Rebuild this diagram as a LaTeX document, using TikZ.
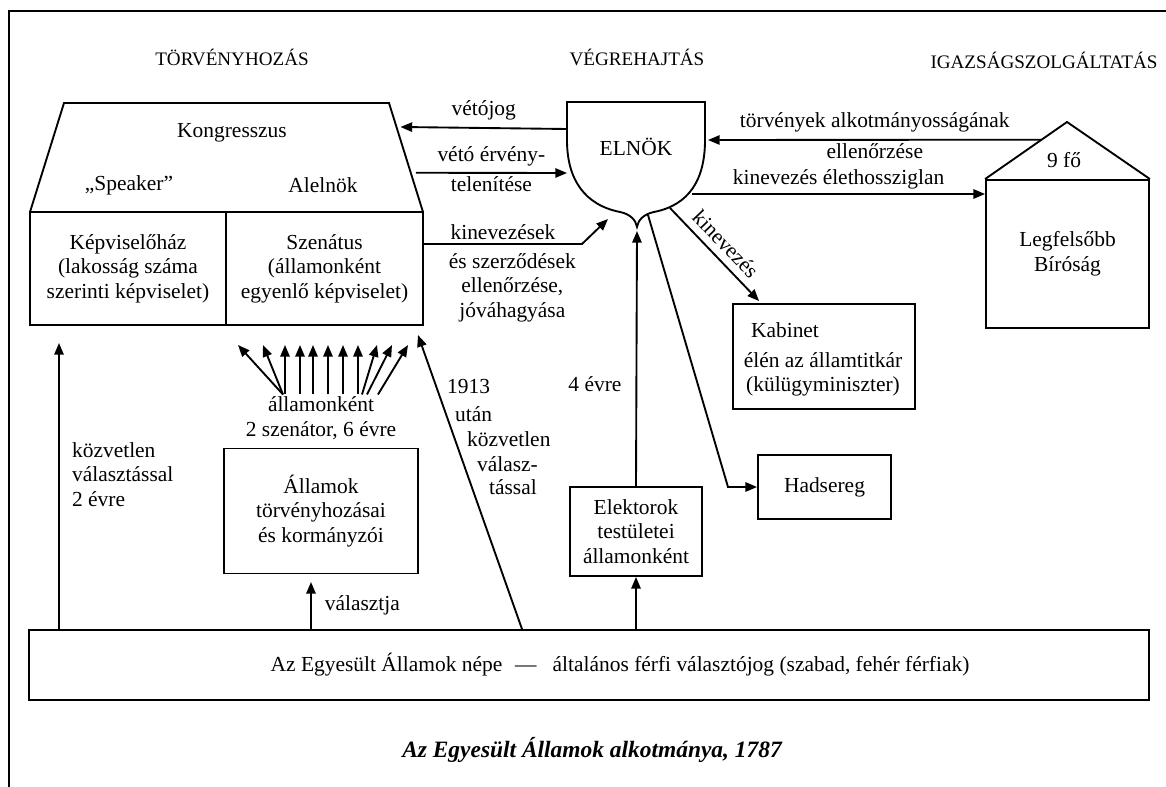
\documentclass[tikz,border=0pt]{standalone}
\usepackage{fontspec}
\setmainfont{Liberation Serif}
\usetikzlibrary{arrows.meta,calc}

\begin{document}
\begin{tikzpicture}[x=0.03cm, y=-0.03cm, >={Triangle[length=10pt,width=8pt]},
    every node/.style={font=\fontsize{18.3}{21}\selectfont, inner sep=1pt},
    every path/.style={line width=1.6pt},
    box/.style={draw, align=center},
    lbl/.style={align=center},
    fejlec/.style={font=\fontsize{16.3}{20}\selectfont}]
    \useasboundingbox (0,0) rectangle (1166,787);
    \draw (9,787) -- (9,11) -- (1166,11);

    % fejlecek
    \node[fejlec] (torv) at (232,57) {TÖRVÉNYHOZÁS};
    \node[fejlec] (vegr) at (637,57) {VÉGREHAJTÁS};
    \node[fejlec] (igaz) at (1044,60) {IGAZSÁGSZOLGÁLTATÁS};

    % Kongresszus
    \coordinate (ktl) at (64,103);
    \coordinate (ktr) at (389,103);
    \coordinate (kbl) at (30,212);
    \coordinate (kbr) at (423,212);
    \draw (kbl) -- (ktl) -- (ktr) -- (kbr);
    \node (kongr) at (232,133) {Kongresszus};
    \node (speaker) at (129,185) {„Speaker”};
    \node (alelnok) at (323,185) {Alelnök};
    \node[box, minimum width=5.88cm, minimum height=3.39cm] (haz) at (128,268.5) {Képviselőház\\(lakosság száma\\szerinti képviselet)};
    \node[box, minimum width=5.91cm, minimum height=3.39cm] (szen) at (324.5,268.5) {Szenátus\\(államonként\\egyenlő képviselet)};

    % Elnok (pajzs)
    \coordinate (elnok-nw) at (567,102);
    \coordinate (elnok-ne) at (705,102);
    \draw (elnok-nw) -- (567,140) .. controls (567,180) and (585,205) .. (620,212)
        .. controls (630,214) and (636,220) .. (637,227)
        .. controls (638,220) and (644,214) .. (654,212)
        .. controls (689,205) and (705,180) .. (705,140) -- (elnok-ne) -- cycle;
    \node (elnok) at (636,147) {ELNÖK};
    \coordinate (elnok-cusp) at (637,231);
    \coordinate (elnok-sw) at (608,219);
    \coordinate (elnok-r1) at (692,194);
    \coordinate (elnok-r2) at (670,208);
    \coordinate (elnok-b) at (648,215);

    % Legfelsobb Birosag
    \node[box, minimum width=4.89cm, minimum height=4.44cm] (birosag) at (1067.5,254) {Legfelsőbb\\Bíróság};
    \coordinate (apex) at (1067,122);
    \draw (birosag.north west) -- (apex) -- (birosag.north east);
    \node (kilenc) at (1064,160) {9 fő};
    \coordinate (roof) at ($(birosag.north west)!0.69!(apex)$);

    % vegrehajto szervek
    \node[box, minimum width=5.46cm, minimum height=3.15cm] (kabinet) at (824,356.5) {};
    \node (kabinet-cim) at (785,330) {Kabinet};
    \node[lbl] (kabinet-fo) at (823,374.5) {élén az államtitkár\\(külügyminiszter)};
    \node[box, minimum width=3.99cm, minimum height=1.92cm] (hadsereg) at (824.5,487) {Hadsereg};
    \node[box, minimum width=3.96cm, minimum height=2.67cm] (elektor) at (636,531.5) {Elektorok\\testületei\\államonként};
    \node[box, minimum width=5.82cm, minimum height=3.75cm] (allamok) at (321,511) {Államok\\törvényhozásai\\és kormányzói};
    \node[lbl] (szenatorok) at (321,418) {államonként\\2 szenátor, 6 évre};
    \node[align=left, anchor=west] (kozv) at (70,474.5) {közvetlen\\választással\\2 évre};

    % nep
    \node[box, minimum width=33.6cm, minimum height=2.1cm] (nep) at (589,665) {};
    \node (nep-txt) at (620,665) {Az Egyesült Államok népe\hspace{0.6em}—\hspace{0.75em}általános férfi választójog (szabad, fehér férfiak)};

    \node[font=\fontsize{20}{24}\selectfont] (cim) at (592,750) {\bfseries\itshape Az Egyesült Államok alkotmánya, 1787};

    % nyilak
    \draw[->] (elnok-nw |- 0,129) -- node[above=5pt]{vétójog} ($(ktr)!0.22!(kbr)+(4,0)$);
    \draw[->] ($(ktr)!0.64!(kbr)+(5,0)$) -- node[above=4pt]{vétó érvény-} node[below=1pt]{telenítése} (elnok-nw |- 0,173);
    \draw[->] (szen.east |- 0,244) -- node[above=2pt]{kinevezések}
        node[below=6pt, lbl, xshift=8pt]{és szerződések\\ellenőrzése,\\jóváhagyása} (582,244) -- (elnok-sw);
    \draw[->] (roof) -- node[above=5pt]{törvények alkotmányosságának} node[below=1pt]{ellenőrzése} (708,140);
    \draw[->] (elnok-r1) -- node[above=2pt]{kinevezés élethossziglan} (birosag.west |- elnok-r1);
    \draw[->] (elnok-r2) -- node[above=5pt, sloped]{kinevezés} ($(kabinet.north west)+(27,-2)$);
    \draw[->] (elnok-b) -- (728,487) -- (hadsereg.west);
    \draw[->] (elektor.north) -- node[pos=.4, left=11pt]{4 évre} (elnok-cusp);

    \draw[->] (nep.north -| 59,0) -- (59,343);
    \foreach \a/\b in {283/238, 283/263, 285/285, 300/300, 313/313, 328/328, 343/343, 358/358, 362/377, 367/392, 378/408}
        \draw[->] (szenatorok.north -| \a,0) -- (\b,345);
    \draw[->] (nep.north -| 311,0) -- node[right=10pt]{választja} (311,582);
    \draw[->] (nep.north -| 522,0) -- (418,335);
    \foreach \t/\x/\y [count=\i] in {1913/445/387, után/453/414, közvetlen/465/439, válasz-/475/464, tással/487/487}
        \node[anchor=west] (ev1913-\i) at (\x,\y) {\t};
    \draw[->] (nep.north -| elektor) -- (elektor.south);
\end{tikzpicture}
\end{document}
